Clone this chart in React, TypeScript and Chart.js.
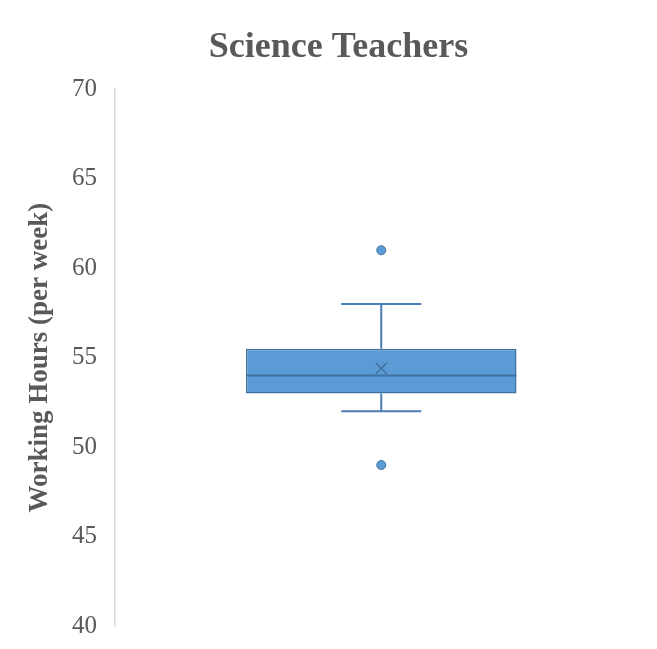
import React, { useEffect, useRef } from "react";
import { Chart, registerables } from "chart.js";

Chart.register(...registerables);

const categories = ["Science Teachers"];
const q1Values = [53];
const q3Values = [55.5];
const medianValues = [54];
const meanValues = [54.4];
const whiskerMinValues = [52];
const whiskerMaxValues = [58];
const outlierValues = [[61, 49]];
const yMin = 40;
const yMax = 70;
const yStep = 5;

const FONT = '"Liberation Serif", "Times New Roman", serif';
const BOX_FILL = "#5B9BD5";
const BOX_LINE = "#41719C";
const WHISKER = "#4A7EB5";
const TEXT = "#595959";

const boxPlotPlugin = {
  id: "boxWhiskers",
  afterDatasetDraw(chart: any, args: any) {
    if (args.index !== 0) return;
    const meta = chart.getDatasetMeta(0);
    const y = chart.scales.y;
    const ctx = chart.ctx;
    meta.data.forEach((bar: any, i: number) => {
      const props = bar.getProps(["x", "width"], true);
      const cx = props.x;
      const half = props.width / 2;
      const capHalf = props.width * 0.148;
      const yQ1 = y.getPixelForValue(q1Values[i]);
      const yQ3 = y.getPixelForValue(q3Values[i]);
      const yMed = y.getPixelForValue(medianValues[i]);
      const yLo = y.getPixelForValue(whiskerMinValues[i]);
      const yHi = y.getPixelForValue(whiskerMaxValues[i]);
      ctx.save();
      ctx.strokeStyle = WHISKER;
      ctx.lineWidth = 2;
      ctx.beginPath();
      ctx.moveTo(cx, yQ3);
      ctx.lineTo(cx, yHi);
      ctx.moveTo(cx - capHalf, yHi);
      ctx.lineTo(cx + capHalf, yHi);
      ctx.moveTo(cx, yQ1);
      ctx.lineTo(cx, yLo);
      ctx.moveTo(cx - capHalf, yLo);
      ctx.lineTo(cx + capHalf, yLo);
      ctx.stroke();
      ctx.strokeStyle = BOX_LINE;
      ctx.beginPath();
      ctx.moveTo(cx - half, yMed);
      ctx.lineTo(cx + half, yMed);
      ctx.stroke();
      ctx.restore();
    });
  },
};

export default function App() {
  const canvasRef = useRef<HTMLCanvasElement | null>(null);

  useEffect(() => {
    document.body.style.margin = "0";
    const canvas = canvasRef.current;
    if (!canvas) return;

    const outlierPoints: any[] = [];
    outlierValues.forEach((vals, i) =>
      vals.forEach((v) => outlierPoints.push({ x: categories[i], y: v }))
    );

    const chart = new Chart(canvas, {
      type: "bar",
      data: {
        labels: categories,
        datasets: [
          {
            type: "bar",
            label: "Box",
            data: categories.map((_, i) => [q1Values[i], q3Values[i]]) as any,
            backgroundColor: BOX_FILL,
            borderColor: BOX_LINE,
            borderWidth: 1.5,
            borderSkipped: false,
            barPercentage: 0.508,
            categoryPercentage: 1,
            order: 3,
          } as any,
          {
            type: "line",
            label: "Mean",
            data: meanValues,
            showLine: false,
            pointStyle: "crossRot",
            pointRadius: 8,
            pointBorderColor: BOX_LINE,
            pointBorderWidth: 1.5,
            order: 1,
          } as any,
          {
            type: "line",
            label: "Outliers",
            data: outlierPoints,
            showLine: false,
            pointStyle: "circle",
            pointRadius: 4.5,
            pointBackgroundColor: BOX_FILL,
            pointBorderColor: BOX_LINE,
            pointBorderWidth: 1,
            order: 2,
          } as any,
        ],
      },
      options: {
        animation: false,
        responsive: true,
        maintainAspectRatio: false,
        layout: { padding: { left: 27, right: 7, top: 0, bottom: 23 } },
        plugins: {
          legend: { display: false },
          tooltip: { enabled: false },
          title: {
            display: true,
            text: "Science Teachers",
            color: TEXT,
            font: { family: FONT, size: 36, weight: "bold", lineHeight: 1.2 },
            padding: { top: 26, bottom: 20 },
          },
        },
        scales: {
          x: {
            type: "category",
            display: false,
            offset: true,
            grid: { display: false },
          },
          y: {
            min: yMin,
            max: yMax,
            ticks: {
              stepSize: yStep,
              color: TEXT,
              padding: 0,
              font: { family: FONT, size: 25 },
            },
            grid: { display: false, drawTicks: true, tickLength: 18 },
            border: { display: true, color: "#D9D9D9", width: 1.5 },
            title: {
              display: true,
              text: "Working Hours (per week)",
              color: TEXT,
              font: { family: FONT, size: 27, weight: "bold", lineHeight: 1 },
              padding: { top: 0, bottom: 0 },
            },
            afterFit(scale: any) {
              scale.width = 88;
            },
          },
        },
      },
      plugins: [boxPlotPlugin],
    });

    return () => chart.destroy();
  }, []);

  return (
    <div style={{ position: "relative", width: 657, height: 649 }}>
      <canvas ref={canvasRef} />
    </div>
  );
}
